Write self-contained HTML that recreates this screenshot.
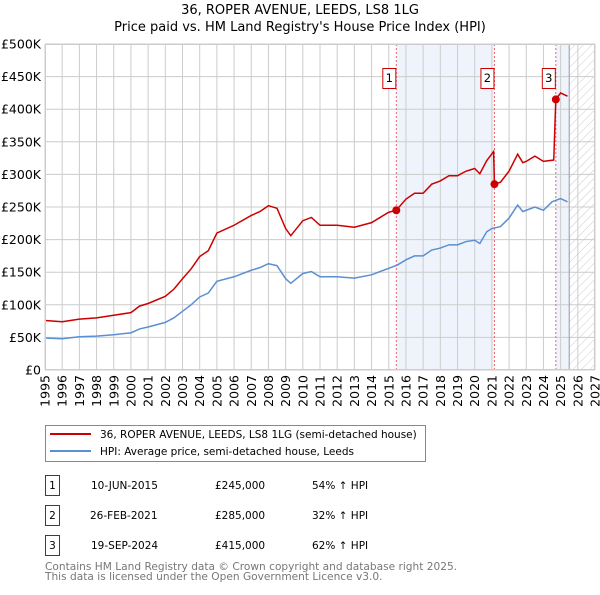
<!DOCTYPE html>
<html><head><meta charset="utf-8"><style>
body{margin:0;background:#fff;font-family:"Liberation Sans","DejaVu Sans",sans-serif}
svg text{font-family:"DejaVu Sans","Liberation Sans",sans-serif}
</style></head><body>
<svg id="c" width="600" height="590" viewBox="0 0 600 590">
<defs><pattern id="h" width="6" height="6" patternUnits="userSpaceOnUse" patternTransform="rotate(45)"><line x1="0" y1="0" x2="0" y2="6" stroke="#ccc" stroke-width="1"/></pattern></defs>
<text x="300" y="14" text-anchor="middle" font-size="13">36, ROPER AVENUE, LEEDS, LS8 1LG</text>
<text x="300" y="31" text-anchor="middle" font-size="13">Price paid vs. HM Land Registry's House Price Index (HPI)</text>
<g id="plot"></g>
<g>
<rect x="45.5" y="425.5" width="380" height="36" fill="#fff" stroke="#888"/>
<line x1="50" y1="434" x2="91" y2="434" stroke="#cc0000" stroke-width="2"/>
<text x="100" y="438" font-size="10.5">36, ROPER AVENUE, LEEDS, LS8 1LG (semi-detached house)</text>
<line x1="50" y1="451" x2="91" y2="451" stroke="#5b8fd4" stroke-width="2"/>
<text x="100" y="455" font-size="10.5">HPI: Average price, semi-detached house, Leeds</text>
</g>
<g font-size="10.5">
<rect x="45.5" y="475.5" width="14" height="20" fill="#fff" stroke="#cc0000"/><text x="52.5" y="489" text-anchor="middle">1</text>
<text x="91" y="489">10-JUN-2015</text><text x="215" y="489">£245,000</text><text x="312" y="489">54% ↑ HPI</text>
<rect x="45.5" y="505.5" width="14" height="20" fill="#fff" stroke="#cc0000"/><text x="52.5" y="519" text-anchor="middle">2</text>
<text x="90" y="519">26-FEB-2021</text><text x="215" y="519">£285,000</text><text x="312" y="519">32% ↑ HPI</text>
<rect x="45.5" y="535.5" width="14" height="20" fill="#fff" stroke="#cc0000"/><text x="52.5" y="549" text-anchor="middle">3</text>
<text x="91" y="549">19-SEP-2024</text><text x="215" y="549">£415,000</text><text x="312" y="549">62% ↑ HPI</text>
</g>
<text x="45" y="570" font-size="10.6" fill="#777">Contains HM Land Registry data © Crown copyright and database right 2025.</text>
<text x="45" y="580" font-size="10.6" fill="#777">This data is licensed under the Open Government Licence v3.0.</text>
</svg>
<script>
const hpiYears=[1995,1996,1997,1998,1999,2000,2000.5,2001,2002,2002.5,2003,2003.5,2004,2004.5,2005,2006,2007,2007.5,2008,2008.5,2009,2009.3,2010,2010.5,2011,2012,2013,2014,2015,2015.5,2016,2016.5,2017,2017.5,2018,2018.5,2019,2019.5,2020,2020.3,2020.7,2021,2021.5,2022,2022.5,2022.8,2023,2023.5,2024,2024.5,2025,2025.4];
const hpiValues=[49,48,51,52,54,57,63,66,73,80,90,100,112,118,136,143,153,157,163,160,140,133,148,151,143,143,141,146,156,161,169,175,175,184,187,192,192,197,199,194,212,217,220,233,253,243,245,250,245,258,263,258];
const priceYears=[1995,1996,1997,1998,1999,2000,2000.5,2001,2002,2002.5,2003,2003.5,2004,2004.5,2005,2006,2007,2007.5,2008,2008.5,2009,2009.3,2010,2010.5,2011,2012,2013,2014,2015,2015.44,2016,2016.5,2017,2017.5,2018,2018.5,2019,2019.5,2020,2020.3,2020.7,2021.1,2021.15,2021.5,2022,2022.5,2022.8,2023,2023.5,2024,2024.6,2024.72,2025,2025.4];
const priceValues=[76,74,78,80,84,88,98,102,113,124,140,155,174,183,210,222,237,243,252,248,217,206,229,234,222,222,219,226,242,245,262,271,271,285,290,298,298,305,309,301,321,335,285,288,305,331,318,320,328,320,322,415,425,420];
const saleYears=[2015.44,2021.15,2024.72];
const salePrices=[245,285,415];
const saleLabels=["1","2","3"];
const yTicks=[0,50,100,150,200,250,300,350,400,450,500];
const yTickLabels=["£0","£50K","£100K","£150K","£200K","£250K","£300K","£350K","£400K","£450K","£500K"];
const xTicks=[1995,1996,1997,1998,1999,2000,2001,2002,2003,2004,2005,2006,2007,2008,2009,2010,2011,2012,2013,2014,2015,2016,2017,2018,2019,2020,2021,2022,2023,2024,2025,2026,2027];
const X0=45,X1=595,Y0=370,Y1=44,dataEnd=2025.5;
const xs=y=>X0+(y-1995)/(2027-1995)*(X1-X0);
const ys=v=>Y0-v/500*(Y0-Y1);
const NS="http://www.w3.org/2000/svg";
const g=document.getElementById('plot');
function mk(t,a,p){const e=document.createElementNS(NS,t);for(const k in a)e.setAttribute(k,a[k]);(p||g).appendChild(e);return e;}
let e;
e=mk('rect',{x:xs(saleYears[0]),y:Y1,width:xs(saleYears[1])-xs(saleYears[0]),height:Y0-Y1,fill:'#eef3fc'});


e=mk('rect',{x:xs(saleYears[2]),y:Y1,width:xs(dataEnd)-xs(saleYears[2]),height:Y0-Y1,fill:'#eef3fc'});


e=mk('rect',{x:xs(dataEnd),y:Y1,width:X1-xs(dataEnd),height:Y0-Y1,fill:'url(#h)'});


yTicks.forEach((v,i)=>{
 e=mk('line',{x1:X0,x2:X1,y1:ys(v),y2:ys(v),stroke:'#ccc'});
 
 
 e=mk('text',{x:41,y:ys(v)+4.5,'text-anchor':'end','font-size':'12.5'});e.textContent=yTickLabels[i];
 
 
});
xTicks.forEach(y=>{
 e=mk('line',{x1:xs(y),x2:xs(y),y1:Y1,y2:Y0,stroke:'#ccc'});
 
 
 e=mk('text',{x:0,y:0,'text-anchor':'end','font-size':'12.5',transform:`translate(${xs(y)+4.5},${Y0+5}) rotate(-90)`});e.textContent=y;
 
 
});
e=mk('line',{x1:xs(dataEnd),x2:xs(dataEnd),y1:Y1,y2:Y0,stroke:'#999'});


saleYears.forEach((y,i)=>{
 e=mk('line',{x1:xs(y),x2:xs(y),y1:Y1,y2:Y0,stroke:'#e66','stroke-dasharray':'2,2'});
 
 
});
e=mk('polyline',{points:hpiYears.map((y,i)=>xs(y)+','+ys(hpiValues[i])).join(' '),fill:'none',stroke:'#5b8fd4','stroke-width':1.5});


e=mk('polyline',{points:priceYears.map((y,i)=>xs(y)+','+ys(priceValues[i])).join(' '),fill:'none',stroke:'#cc0000','stroke-width':1.5});


saleYears.forEach((y,i)=>{
 e=mk('circle',{cx:xs(y),cy:ys(salePrices[i]),r:4,fill:'#cc0000'});
 
 
 e=mk('rect',{x:xs(y)-13.5,y:68.5,width:13,height:20,fill:'#fff',stroke:'#cc0000'});
 
 
 e=mk('text',{x:xs(y)-7,y:82,'text-anchor':'middle','font-size':'11.5'});e.textContent=saleLabels[i];
 
 
});
e=mk('rect',{x:X0+0.5,y:Y1+0.5,width:X1-X0-1,height:Y0-Y1-1,fill:'none',stroke:'#ccc'});


</script>
</body></html>
